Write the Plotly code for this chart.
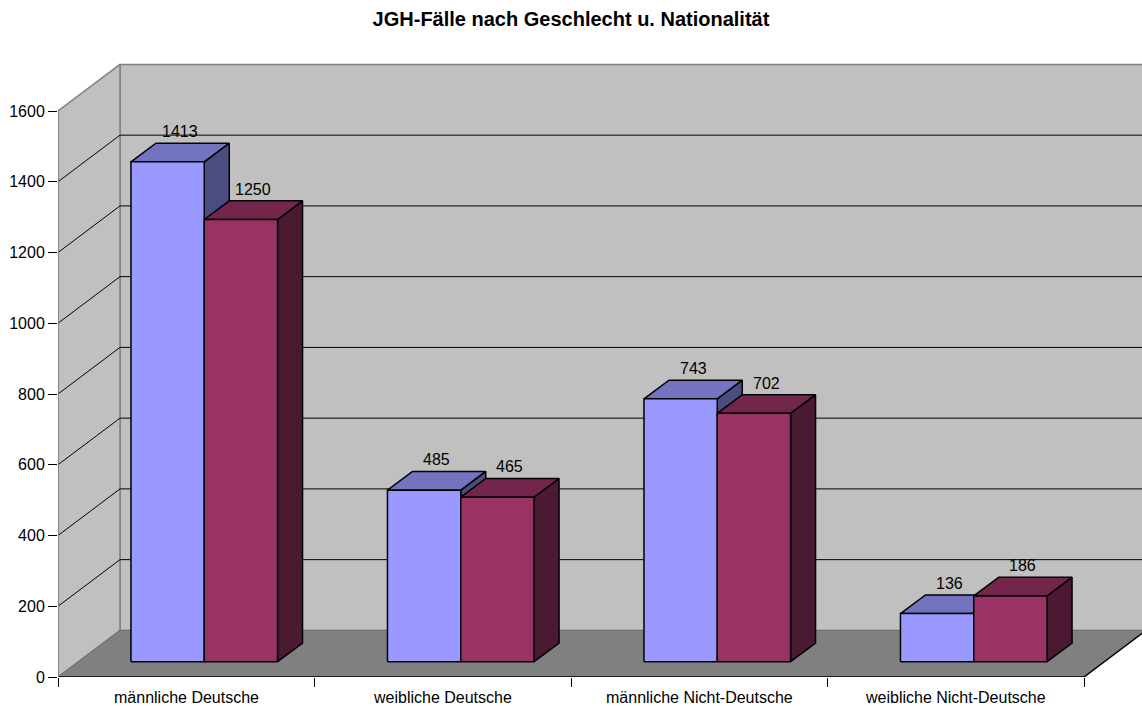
import plotly.graph_objects as go

# ---- data ----
categories = ["männliche Deutsche", "weibliche Deutsche",
              "männliche Nicht-Deutsche", "weibliche Nicht-Deutsche"]
series_a = [1413, 485, 743, 136]
series_b = [1250, 465, 702, 186]
y_ticks = [0, 200, 400, 600, 800, 1000, 1200, 1400, 1600]
title_text = "JGH-Fälle nach Geschlecht u. Nationalität"

# ---- layout geometry (pixels -> data units) ----
W, H = 1142, 706
ML, MR, MT, MB = 58, 0, 40, 29
PX_X = 256.5                  # px per category
PX_Y = 566 / 1600             # px per value unit
XMAX = (W - ML - MR) / PX_X
YMAX = (H - MT - MB) / PX_Y
YTOP = y_ticks[-1]
NCAT = len(categories)

DX, DY = 62 / PX_X, 46.6 / PX_Y          # wall depth offset
BX0, BY0 = 18 / PX_X, 15.3 / PX_Y        # bar front face offset
BDX, BDY = 25 / PX_X, 18.7 / PX_Y        # bar depth
BW = 1 / 3.5                             # bar width (gap 150%)
GAP0 = 0.75 * BW

FONT = "Arial, 'Liberation Sans', sans-serif"
fig = go.Figure()


def poly(xs, ys, fill, line, width=1.0):
    fig.add_trace(go.Scatter(x=xs + [xs[0]], y=ys + [ys[0]], mode="lines",
                             fill="toself", fillcolor=fill,
                             line=dict(color=line, width=width),
                             hoverinfo="skip", showlegend=False))


def line(xs, ys, color, width=1.0):
    fig.add_trace(go.Scatter(x=xs, y=ys, mode="lines",
                             line=dict(color=color, width=width),
                             hoverinfo="skip", showlegend=False))


XR = NCAT + DX + 0.2
# walls
poly([DX, XR, XR, DX], [DY, DY, YTOP + DY, YTOP + DY], "#c0c0c0", "#808080", 1.5)
poly([0, 0, DX, DX], [0, YTOP, YTOP + DY, DY], "#c0c0c0", "#808080", 1.5)
# floor
poly([0, NCAT, NCAT + DX, DX], [0, 0, DY, DY], "#808080", "#707070", 1.0)
line([NCAT, NCAT + DX], [0, DY], "#000000", 1.5)
line([0, NCAT], [0, 0], "#000000", 1.5)

# gridlines
for v in y_ticks[1:-1]:
    line([0, DX, XR], [v, v + DY, v + DY], "#000000", 1.0)
# left wall edge
line([0, 0], [0, YTOP], "#808080", 1.5)

colors = [("#9999ff", "#7373bf", "#4c4c80"), ("#993366", "#73264c", "#4c1933")]
annotations = []
for i in range(NCAT):
    for k, vals in enumerate([series_a, series_b]):
        v = vals[i]
        front, top, side = colors[k]
        x0 = i + GAP0 + k * BW + BX0
        x1 = x0 + BW
        y0 = BY0
        y1 = v + BY0
        poly([x1, x1 + BDX, x1 + BDX, x1], [y0, y0 + BDY, y1 + BDY, y1], side, "#000000", 1.5)
        poly([x0, x1, x1 + BDX, x0 + BDX], [y1, y1, y1 + BDY, y1 + BDY], top, "#000000", 1.5)
        poly([x0, x1, x1, x0], [y0, y0, y1, y1], front, "#000000", 1.5)
        annotations.append(dict(x=x0 + BW / 2 + BDX / 2, y=y1 + BDY / 2, xref="x", yref="y",
                                text=str(v), showarrow=False, yshift=21,
                                font=dict(family=FONT, size=16, color="#000000")))

for i, c in enumerate(categories):
    annotations.append(dict(x=i + 0.5, y=0, xref="x", yref="paper", yanchor="middle",
                            yshift=-20, text=c, showarrow=False,
                            font=dict(family=FONT, size=16, color="#000000")))

fig.update_layout(
    width=W, height=H,
    margin=dict(l=ML, r=MR, t=MT, b=MB, pad=0),
    paper_bgcolor="#ffffff", plot_bgcolor="#ffffff",
    title=dict(text="<b>" + title_text + "</b>", x=0.5, xref="container", xanchor="center",
               y=1 - 19 / H, yref="container", yanchor="middle",
               font=dict(family=FONT, size=20, color="#000000")),
    xaxis=dict(range=[0, XMAX], showgrid=False, zeroline=False, showline=False,
               tickvals=list(range(NCAT + 1)), ticktext=[""] * (NCAT + 1),
               ticks="outside", ticklen=9, tickwidth=1, tickcolor="#000000",
               fixedrange=True),
    yaxis=dict(range=[0, YMAX], showgrid=False, zeroline=False, showline=False,
               tickvals=y_ticks, ticks="outside", ticklen=9, tickwidth=1,
               tickcolor="#000000", tickfont=dict(family=FONT, size=16, color="#000000"),
               fixedrange=True),
    annotations=annotations,
    showlegend=False,
)

fig.write_html("out.html")
